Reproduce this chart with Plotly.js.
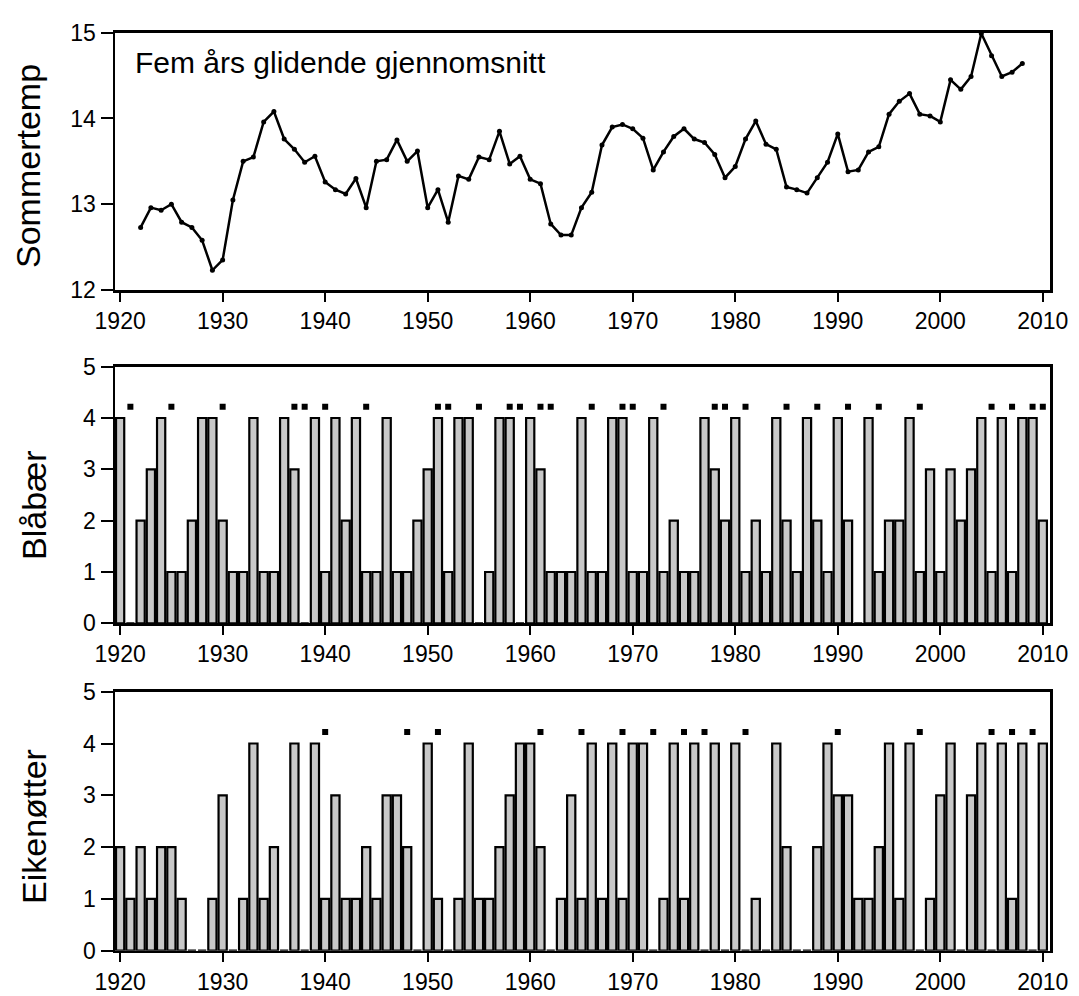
<!DOCTYPE html>
<html>
<head>
<meta charset="utf-8">
<script src="https://cdn.plot.ly/plotly-3.0.1.min.js"></script>
<style>html,body{margin:0;padding:0;background:#fff;}#chart{width:1079px;height:996px;}</style>
</head>
<body>
<div id="chart"></div>
<script>
// ---- Data ----
const tempYears = [1922,1923,1924,1925,1926,1927,1928,1929,1930,1931,1932,1933,1934,1935,1936,1937,1938,1939,
  1940,1941,1942,1943,1944,1945,1946,1947,1948,1949,1950,1951,1952,1953,1954,1955,1956,1957,1958,1959,
  1960,1961,1962,1963,1964,1965,1966,1967,1968,1969,1970,1971,1972,1973,1974,1975,1976,1977,1978,1979,
  1980,1981,1982,1983,1984,1985,1986,1987,1988,1989,1990,1991,1992,1993,1994,1995,1996,1997,1998,1999,
  2000,2001,2002,2003,2004,2005,2006,2007,2008];
const sommertemp = [12.73,12.96,12.93,13.00,12.79,12.73,12.58,12.23,12.35,13.05,13.50,13.55,13.96,14.08,13.76,13.64,13.49,13.56,
  13.26,13.17,13.12,13.30,12.96,13.50,13.52,13.75,13.50,13.62,12.96,13.17,12.79,13.33,13.29,13.55,13.52,13.85,13.47,13.56,
  13.29,13.24,12.77,12.64,12.64,12.96,13.14,13.69,13.90,13.93,13.88,13.77,13.40,13.61,13.79,13.88,13.76,13.72,13.58,13.31,
  13.44,13.76,13.97,13.70,13.64,13.20,13.17,13.13,13.31,13.49,13.82,13.38,13.40,13.61,13.67,14.05,14.20,14.29,14.05,14.03,
  13.96,14.45,14.34,14.49,14.99,14.73,14.49,14.54,14.64];

const barYears = [1920,1921,1922,1923,1924,1925,1926,1927,1928,1929,
  1930,1931,1932,1933,1934,1935,1936,1937,1938,1939,
  1940,1941,1942,1943,1944,1945,1946,1947,1948,1949,
  1950,1951,1952,1953,1954,1955,1956,1957,1958,1959,
  1960,1961,1962,1963,1964,1965,1966,1967,1968,1969,
  1970,1971,1972,1973,1974,1975,1976,1977,1978,1979,
  1980,1981,1982,1983,1984,1985,1986,1987,1988,1989,
  1990,1991,1992,1993,1994,1995,1996,1997,1998,1999,
  2000,2001,2002,2003,2004,2005,2006,2007,2008,2009,2010];
const blabaer = [4,0,2,3,4,1,1,2,4,4,
  2,1,1,4,1,1,4,3,0,4,
  1,4,2,4,1,1,4,1,1,2,
  3,4,1,4,4,0,1,4,4,0,
  4,3,1,1,1,4,1,1,4,4,
  1,1,4,1,2,1,1,4,3,2,
  4,1,2,1,4,2,1,4,2,1,
  4,2,0,4,1,2,2,4,1,3,
  1,3,2,3,4,1,4,1,4,4,2];
const eikenotter = [2,1,2,1,2,2,1,0,0,1,
  3,0,1,4,1,2,0,4,0,4,
  1,3,1,1,2,1,3,3,2,0,
  4,1,0,1,4,1,1,2,3,4,
  4,2,0,1,3,1,4,1,4,1,
  4,4,0,1,4,1,4,0,4,0,
  4,0,1,0,4,2,0,0,2,4,
  3,3,1,1,2,4,1,4,0,1,
  3,4,0,3,4,0,4,1,4,0,4];
const blaStarYears = [1921,1925,1930,1937,1938,1940,1944,1951,1952,1955,1958,1959,1961,1962,1966,1969,1970,1973,
  1978,1979,1981,1985,1988,1991,1994,1998,2005,2007,2009,2010];
const eikStarYears = [1940,1948,1951,1961,1965,1969,1972,1975,1977,1981,1990,1998,2005,2007,2009];
const starLevel = 4.22;
const xTicks = [1920,1930,1940,1950,1960,1970,1980,1990,2000,2010];
const tempTicks = [12,13,14,15];
const countTicks = [0,1,2,3,4,5];

// ---- Styling ----
const FONT = 'Liberation Sans, Arial, Helvetica, sans-serif';
const W = 1079, H = 996;
const xDom = [115/W, 1050/W];
const pyd = (top, bot) => [(H - bot)/H, (H - top)/H];

function xAxis(anchor) {
  return {
    domain: xDom, anchor: anchor, range: [1919.5, 2010.7],
    tickmode: 'array', tickvals: xTicks, ticktext: xTicks.map(String),
    ticks: 'outside', ticklen: 9, tickwidth: 2, tickcolor: '#000',
    showline: true, linecolor: '#000', linewidth: 2.5, mirror: true,
    showgrid: false, zeroline: false, automargin: false,
    tickfont: {family: FONT, size: 23, color: '#000'}
  };
}
function yAxis(anchor, dom, range, vals) {
  return {
    domain: dom, anchor: anchor, range: range,
    tickmode: 'array', tickvals: vals, ticktext: vals.map(String),
    ticks: 'outside', ticklen: 12, tickwidth: 2, tickcolor: '#000',
    showline: true, linecolor: '#000', linewidth: 2.5, mirror: true,
    showgrid: false, zeroline: false, automargin: false,
    tickfont: {family: FONT, size: 23, color: '#000'}
  };
}

const barStyle = {color: '#c8c8c8', line: {color: '#000', width: 2.2}};
const starStyle = {symbol: 'square', size: 6, color: '#000', line: {color: '#000', width: 0}};

const traces = [
  {type: 'scatter', mode: 'lines+markers', x: tempYears, y: sommertemp, xaxis: 'x', yaxis: 'y',
   line: {color: '#000', width: 2.5}, marker: {color: '#000', size: 5}, hoverinfo: 'x+y'},
  {type: 'bar', x: barYears, y: blabaer, xaxis: 'x2', yaxis: 'y2', width: 0.8, marker: barStyle},
  {type: 'scatter', mode: 'markers', x: blaStarYears, y: blaStarYears.map(() => starLevel), xaxis: 'x2', yaxis: 'y2', marker: starStyle},
  {type: 'bar', x: barYears, y: eikenotter, xaxis: 'x3', yaxis: 'y3', width: 0.8, marker: barStyle},
  {type: 'scatter', mode: 'markers', x: eikStarYears, y: eikStarYears.map(() => starLevel), xaxis: 'x3', yaxis: 'y3', marker: starStyle}
];

const layout = {
  width: W, height: H,
  margin: {l: 0, r: 0, t: 0, b: 0},
  paper_bgcolor: '#fff', plot_bgcolor: '#fff',
  showlegend: false, bargap: 0,
  font: {family: FONT, color: '#000'},
  xaxis: xAxis('y'),
  yaxis: yAxis('x', pyd(32.7, 290), [12, 15], tempTicks),
  xaxis2: xAxis('y2'),
  yaxis2: yAxis('x2', pyd(366.7, 623.3), [0, 5], countTicks),
  xaxis3: xAxis('y3'),
  yaxis3: yAxis('x3', pyd(691.7, 950.7), [0, 5], countTicks),
  annotations: [
    {text: 'Fem års glidende gjennomsnitt', xref: 'paper', yref: 'paper', x: 133/W, y: 1 - 62/H,
     xanchor: 'left', yanchor: 'middle', showarrow: false, font: {family: FONT, size: 30, color: '#000'}},
    {text: 'Sommertemp', xref: 'paper', yref: 'paper', x: 28/W, y: 1 - 166/H, textangle: -90,
     xanchor: 'center', yanchor: 'middle', showarrow: false, font: {family: FONT, size: 34, color: '#000'}},
    {text: 'Blåbær', xref: 'paper', yref: 'paper', x: 34/W, y: 1 - 505/H, textangle: -90,
     xanchor: 'center', yanchor: 'middle', showarrow: false, font: {family: FONT, size: 34, color: '#000'}},
    {text: 'Eikenøtter', xref: 'paper', yref: 'paper', x: 34/W, y: 1 - 827/H, textangle: -90,
     xanchor: 'center', yanchor: 'middle', showarrow: false, font: {family: FONT, size: 34, color: '#000'}}
  ]
};

Plotly.newPlot('chart', traces, layout, {displayModeBar: false, staticPlot: true});
</script>
</body>
</html>
